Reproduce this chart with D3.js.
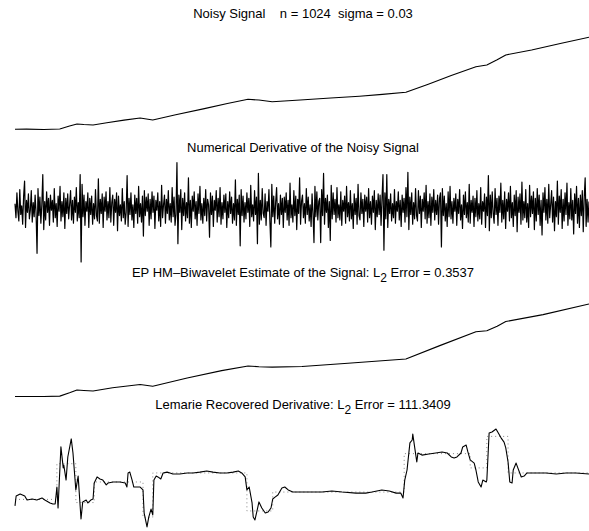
<!DOCTYPE html>
<html>
<head>
<meta charset="utf-8">
<script src="https://cdn.jsdelivr.net/npm/d3@7"></script>
<style>
  html, body { margin: 0; padding: 0; background: #fff; }
  svg { display: block; }
  text { font-family: "Liberation Sans", Arial, Helvetica, sans-serif; white-space: pre; }
</style>
</head>
<body>
<script>
// ---------- DATA ----------
const titles = [
  "Noisy Signal    n = 1024  sigma = 0.03",
  "Numerical Derivative of the Noisy Signal",
  "EP HM\u2013Biwavelet Estimate of the Signal: L",
  "Lemarie Recovered Derivative: L"
];
const titleSuffix = ["", "", " Error = 0.3537", " Error = 111.3409"];

// Panel 1: noisy signal (t in [0,1], value)
const signalT = [0, 0.02, 0.05, 0.078, 0.095, 0.108, 0.12, 0.136, 0.16, 0.19, 0.218, 0.24, 0.28, 0.33, 0.37, 0.406, 0.425, 0.448, 0.497, 0.55, 0.60, 0.64, 0.681, 0.72, 0.76, 0.803, 0.822, 0.84, 0.855, 0.90, 0.95, 1.0];
const signalV = [0, 0.002, -0.002, 0.003, 0.035, 0.058, 0.052, 0.047, 0.072, 0.10, 0.123, 0.101, 0.158, 0.225, 0.28, 0.326, 0.318, 0.30, 0.318, 0.34, 0.36, 0.38, 0.402, 0.49, 0.585, 0.68, 0.699, 0.755, 0.808, 0.862, 0.932, 1.0];

// Panel 2: numerical derivative of the noisy signal (600 samples, arbitrary units)
const noisyDeriv = [
  4,-9,14,-3,-12,17,-6,2,-15,11,25,-18,7,-4,13,-10,-2,16,-13,5,
  -8,12,-5,-42,18,-7,10,-14,3,31,-20,6,-11,15,-4,9,-16,12,-2,7,
  -13,18,-9,4,-17,11,-3,20,-12,6,-8,14,-19,9,-5,13,-10,3,16,-11,
  7,-14,10,-4,19,-12,5,-9,31,-50,22,-8,12,-16,6,-3,14,-18,9,-6,
  11,-15,4,-10,17,-7,-12,27,-14,8,-5,13,-18,10,-3,15,-11,6,-9,19,
  -13,5,12,-16,8,-4,14,-21,11,-7,3,-12,18,-9,6,-15,-4,30,-17,9,
  -6,14,-11,3,-18,12,-5,9,-14,20,-8,4,-13,11,-26,16,-7,10,-3,13,
  -16,8,-10,15,-4,11,-19,7,-2,14,-12,6,-17,21,-9,3,12,-14,8,-5,
  16,-11,4,-13,19,-8,10,-16,-6,42,-33,12,-4,17,-20,9,-7,14,-12,5,
  -9,28,-14,7,-18,11,-3,15,-10,6,-16,13,-5,20,-11,4,-14,9,-7,17,
  -12,8,3,-27,14,-6,11,-17,7,-2,16,-13,9,-8,19,-15,5,-10,12,-4,
  13,-18,6,-9,15,-5,10,-14,4,-11,26,-16,8,-6,12,-35,17,-7,11,-13,
  5,-10,14,-4,9,-17,21,-8,3,-12,16,-6,10,-33,32,-15,7,-11,18,-5,
  -9,13,-16,6,-3,17,-12,-36,22,-8,11,-14,5,19,-10,4,-15,12,-6,9,
  -18,10,-4,14,-11,7,-16,23,-9,3,-13,16,-7,11,-20,8,-5,28,-15,6,
  12,-9,4,-14,18,-6,10,-12,3,-17,13,-5,-32,20,-8,15,-11,6,9,-32,
  17,-7,32,-15,9,-4,12,-18,6,-30,21,-10,14,-6,8,-13,19,-9,3,-11,
  15,-16,7,-3,11,-14,20,-8,5,-12,16,-10,4,-19,13,-6,9,-15,22,-7,
  -11,14,-5,8,-17,12,-3,10,-13,18,-9,6,-15,11,-4,16,-20,7,-8,13,
  -6,12,-16,9,31,-39,14,-10,31,-18,8,-5,13,-12,4,-9,17,-14,6,-3,
  15,-11,7,-17,12,-4,9,-13,19,-8,33,-20,10,-6,14,-15,5,-10,18,-7,
  -12,16,-5,11,-18,8,-3,14,-10,21,-14,6,-9,13,-16,10,-4,17,-11,7,
  -6,12,-15,9,14,-36,18,-7,11,-12,4,-17,15,-8,20,-10,6,-14,9,-3,
  13,-16,8,-5,17,-11,3,-19,12,-6,15,-9,5,-13,22,-14,7,-4,11,-17,
  9,-8,16,-12,4,-10,19,-15,6,-3,13,-18,10,-7,30,-21,12,-9,15,-5,
  -14,18,-6,9,-16,11,-4,23,-13,7,-10,15,-19,8,-3,14,-12,20,-9,5,
  -17,12,-7,16,-22,10,-4,13,-15,24,-11,6,-9,17,-13,4,-18,21,-8,11,
  -5,15,-20,9,-12,18,-6,12,-16,7,-25,14,-4,19,-11,8,-14,22,-9,3,
  16,-13,10,-21,6,-8,25,-15,11,-4,17,-19,8,-12,14,-6,23,-16,5,-10,
  18,-11,7,-24,13,-5,20,-14,9,-18,12,-7,16,-22,10,28,-17,8,-13,6
];

// Panel 3: biwavelet estimate of the signal
const estimateT = [0, 0.05, 0.078, 0.095, 0.108, 0.12, 0.136, 0.17, 0.218, 0.24, 0.30, 0.36, 0.406, 0.425, 0.448, 0.50, 0.58, 0.681, 0.74, 0.803, 0.822, 0.84, 0.855, 0.92, 1.0];
const estimateV = [0, 0.0, 0.004, 0.04, 0.07, 0.065, 0.06, 0.095, 0.13, 0.11, 0.20, 0.28, 0.33, 0.322, 0.318, 0.325, 0.36, 0.405, 0.55, 0.70, 0.71, 0.76, 0.81, 0.885, 1.0];

// Panel 4: recovered derivative (solid) and true derivative (dotted steps)
const recT = [0,0.002,0.009,0.017,0.021,0.030,0.038,0.047,0.052,0.061,0.066,0.070,0.073,0.075,0.080,0.084,0.085,0.089,0.092,0.098,
  0.101,0.106,0.110,0.115,0.118,0.124,0.127,0.132,0.136,0.138,0.143,0.148,0.153,0.159,0.162,0.171,0.183,0.192,0.195,0.197,
  0.200,0.204,0.207,0.218,0.223,0.225,0.230,0.233,0.237,0.240,0.242,0.246,0.249,0.254,0.258,0.265,0.270,0.275,0.287,0.300,
  0.310,0.322,0.334,0.345,0.357,0.369,0.380,0.389,0.395,0.401,0.404,0.408,0.413,0.415,0.418,0.422,0.425,0.430,0.436,0.441,
  0.446,0.449,0.453,0.458,0.465,0.470,0.476,0.484,0.497,0.512,0.535,0.552,0.570,0.594,0.611,0.622,0.639,0.652,0.664,0.672,
  0.676,0.679,0.683,0.688,0.692,0.693,0.697,0.700,0.702,0.709,0.721,0.733,0.744,0.753,0.760,0.765,0.770,0.777,0.780,0.786,
  0.789,0.793,0.800,0.803,0.807,0.812,0.815,0.821,0.822,0.826,0.831,0.838,0.841,0.847,0.852,0.855,0.859,0.862,0.866,0.868,
  0.873,0.876,0.882,0.887,0.892,0.908,0.925,0.943,0.960,0.977,1.000];
const recV = [-0.21,0.26,0.36,0.26,0.07,0.12,0.07,0.17,0.07,-0.07,-0.12,-0.12,0.69,-0.31,2.60,1.60,1.74,1.02,2.12,2.98,
  2.31,0.55,1.21,-0.83,-0.02,0.07,-0.07,0.07,0.12,0.88,1.17,1.07,1.02,0.79,0.88,0.93,0.93,0.88,0.69,1.36,
  1.40,1.02,0.69,0.69,0.55,-0.55,-1.21,-0.74,-0.36,-0.64,1.02,1.21,1.17,1.07,1.36,1.40,1.36,1.31,1.31,1.36,
  1.36,1.40,1.45,1.40,1.36,1.36,1.40,1.45,1.36,1.17,0.55,0.69,-0.07,-0.74,-0.88,-0.40,-0.02,-0.31,-0.55,-0.50,
  -0.31,0.12,0.21,0.31,0.64,0.69,0.55,0.45,0.45,0.45,0.45,0.50,0.45,0.40,0.40,0.45,0.55,0.50,0.40,0.40,
  0.17,1.02,1.50,2.79,2.93,3.21,2.45,1.88,2.31,2.21,2.26,2.31,2.36,2.31,2.12,2.07,2.12,2.31,2.60,2.69,
  2.36,1.98,1.83,1.50,0.93,0.69,1.02,0.93,1.02,3.26,3.31,3.45,3.31,3.02,2.83,2.55,1.88,0.93,0.88,1.50,
  1.83,1.60,1.17,1.21,1.36,1.36,1.36,1.31,1.36,1.36,1.31];
const trueStepT = [0, 0.073, 0.106, 0.138, 0.223, 0.240, 0.404, 0.449, 0.678, 0.793, 0.822, 0.859, 1.0];
const trueStepV = [0.10, 1.80, -0.05, 0.93, -0.75, 1.36, -0.45, 0.45, 2.28, 1.60, 3.10, 1.36, 1.36];

// ---------- LAYOUT ----------
const W = 589, H = 531;
const x0 = 15, x1 = 589;
const svg = d3.select("body").append("svg").attr("width", W).attr("height", H);

const xT = d3.scaleLinear().domain([0, 1]).range([x0, x1]);
const xIdx = d3.scaleLinear().domain([0, noisyDeriv.length - 1]).range([x0, x1]);

const y1 = d3.scaleLinear().domain([0, 1]).range([129.3, 37.3]);
const y2 = d3.scaleLinear().domain([-50, 50]).range([262, 154]);
const y3 = d3.scaleLinear().domain([0, 1]).range([396.5, 304]);
const y4 = d3.scaleLinear().domain([0, 3]).range([501.5, 438.5]);

const titleY = [18, 152, 277, 409];
const titleX = 303;

function addTitle(i) {
  const t = svg.append("text")
    .attr("x", titleX).attr("y", titleY[i])
    .attr("text-anchor", "middle")
    .attr("font-size", 13)
    .attr("fill", "#000");
  t.append("tspan").text(titles[i]);
  if (titleSuffix[i]) {
    t.append("tspan").attr("dy", 5).attr("font-size", 12).text("2");
    t.append("tspan").attr("dy", -5).text(titleSuffix[i]);
  }
}
for (let i = 0; i < 4; i++) addTitle(i);

function drawLine(ts, vs, xs, ys, opts) {
  const pts = ts.map((t, i) => [t, vs[i]]);
  const line = (opts.curve ? d3.line().curve(opts.curve) : d3.line())
    .x(d => xs(d[0])).y(d => ys(d[1]));
  return svg.append("path").datum(pts)
    .attr("d", line)
    .attr("fill", "none")
    .attr("stroke", opts.stroke || "#000")
    .attr("stroke-width", opts.width || 1)
    .attr("stroke-dasharray", opts.dash || null)
    .attr("stroke-linejoin", "round");
}

// Panel 1
drawLine(signalT, signalV, xT, y1, { width: 1.1 });
// Panel 2
drawLine(noisyDeriv.map((d, i) => i), noisyDeriv, xIdx, y2, { width: 1.2 });
// Panel 3
drawLine(estimateT, estimateV, xT, y3, { width: 1.1 });
// Panel 4: true derivative as dotted steps, recovered as solid line
drawLine(trueStepT, trueStepV, xT, y4, { curve: d3.curveStepAfter, stroke: "#777", width: 0.9, dash: "1,3" });
drawLine(recT, recV, xT, y4, { width: 1.1 });
</script>
</body>
</html>
